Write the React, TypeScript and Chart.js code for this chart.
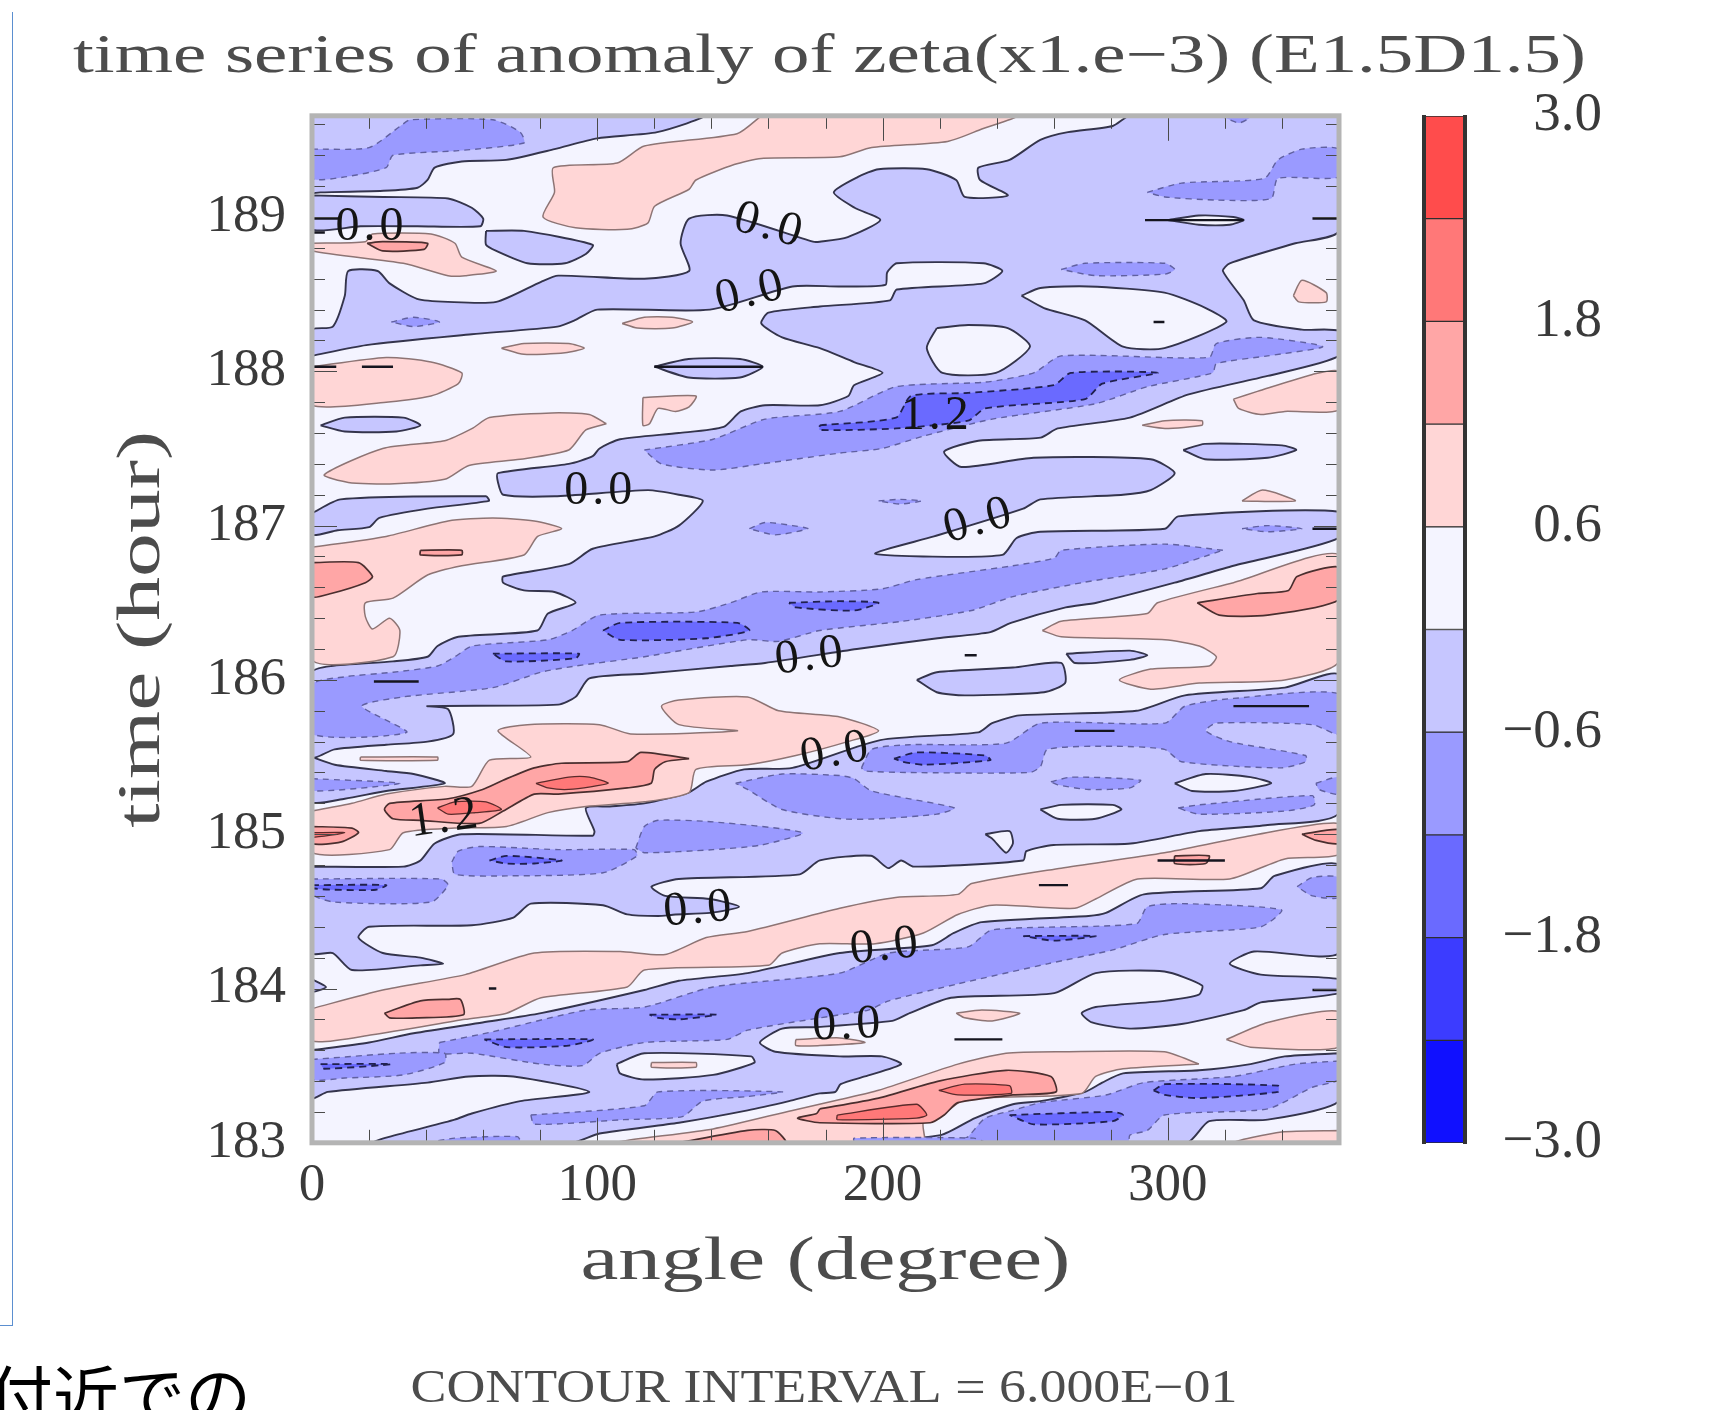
import React, { useEffect, useRef } from "react";
import { Chart, registerables } from "chart.js";

Chart.register(...registerables);

// ---- axis and level data ----
const angleMax = 360;
const hourMin = 183;
const hourMax = 189.656;
const colorLevelsPositive = [0.6, 0.6, 0.6, 0.6, 0.6];
const colorLevelsNegative = [-0.6, -0.6, -0.6, -0.6, -0.6];
const colorsPositive = ["#f4f4ff", "#ffd6d6", "#ffa6a6", "#ff7878", "#ff4c4c"];
const colorsNegative = ["#c6c6ff", "#9a9aff", "#6a6aff", "#3c3cff", "#1010ff"];

// ---- contour regions: flat lists of angle (degree), time (hour) ----
const plotWhole = [0, 183, 360, 183, 360, 189.656, 0, 189.656];

// band -0.6..0
const lbMain = [0,188.1,19,188.17,56,188.24,86,188.29,92,188.33,100,188.4,139.5,188.4,168.4,188.55,185,188.55,201,188.56,201.6,188.64,205,188.7,235.4,188.7,242,188.65,235.4,188.57,205,188.53,202.6,188.46,178,188.42,160,188.38,157.5,188.31,164.8,188.22,178,188.15,190,188.06,200,187.99,190,187.91,188,187.84,178,187.78,158.8,187.78,150.3,187.74,144.3,187.64,128.6,187.6,108,187.56,100.8,187.5,98.4,187.45,90,187.4,65.2,187.34,65.2,187.28,67,187.2,85,187.19,117.7,187.23,128.6,187.2,137,187.16,128.6,187,120.1,186.93,98.4,186.85,90,186.75,67,186.67,67,186.63,74.3,186.58,85,186.57,92.4,186.5,82.7,186.43,79,186.32,51.3,186.28,44,186.22,40.5,186.15,28.4,186.12,6.7,186.09,0,186.05,0,185.5,7.9,185.55,26,185.58,40.5,185.6,49.5,185.65,47.7,185.81,40.5,185.83,86.3,185.84,92.4,185.89,97.2,186.01,116.5,186.04,146.7,186.09,158.8,186.11,191,186.2,219.3,186.27,237.8,186.31,245,186.37,264.2,186.47,275,186.5,302.4,186.63,323,186.74,360,186.92,360,187.09,303.6,187.06,299,186.98,255.3,186.96,247,186.92,242,186.81,214.3,186.8,197.4,186.82,218,186.93,249.3,187.11,255.3,187.17,284.3,187.2,294,187.23,302.4,187.34,294,187.43,252.9,187.44,227.6,187.38,221.6,187.48,233.6,187.55,255.4,187.57,261.4,187.63,286.7,187.7,307.3,187.85,335,187.97,360,188.1,360,188.26,347,188.27,330.2,188.33,326.6,188.46,319.3,188.65,321.7,188.7,344.7,188.83,360,188.91,360,189.656,286.7,189.656,280.7,189.59,265,189.55,255.3,189.5,244.5,189.37,233.6,189.32,234.2,189.24,243.9,189.14,228.8,189.13,225.8,189.24,215.5,189.31,198.6,189.31,191.4,189.26,182.9,189.16,190.2,189.06,199.2,188.98,187.8,188.87,178,188.84,175.6,188.84,145.5,189.01,132.2,188.99,129.2,188.83,132.2,188.65,116.5,188.6,86.3,188.62,80.3,188.58,64.6,188.45,47.7,188.45,36.8,188.47,27.2,188.57,23,188.65,12.7,188.65,11.5,188.49,7.3,188.29,0,188.27,0,188.1];
const lbTop = [0,189.656,137,189.656,121,189.55,100,189.51,85,189.44,68,189.37,52.5,189.36,43,189.32,40.5,189.24,37,189.19,25,189.17,3,189.16,0,189.16,0,189.656];
const lbSecond = [0,189.14,25,189.13,47.7,189.12,56,189.06,60,188.99,59,188.94,37,188.94,17,188.94,0,188.92,0,189.14];
const lbThird = [61,188.91,74.3,188.91,98.4,188.82,96,188.76,88.7,188.7,75.5,188.7,64.6,188.78,61,188.82,61,188.91];
const lbLens1 = [120,188.03,132,188.08,150,188.08,158,188.03,150,187.96,132,187.96,120,188.03];
const lbLens2 = [3,187.65,11.5,187.7,32,187.7,38,187.65,29.6,187.61,11.5,187.61,3,187.65];
const lbLens3 = [305.4,187.49,313,187.53,340,187.52,345,187.49,335,187.44,313,187.43,305.4,187.49];
const lbLens4 = [212,186,219,186.05,245.7,186.08,262.6,186.11,264,185.98,256.6,185.92,228.8,185.9,219,185.92,212,186];
const lbLens5 = [264.4,186.17,286.7,186.19,292.8,186.16,286.7,186.13,267.4,186.11,264.4,186.17];
const lbSeven = [0,187.08,10,187.17,61,187.19,62,187.16,40.5,187.11,23.6,187.05,20,186.99,9,186.97,0,186.94,0,187.08];
const lbLower = [0,185.5,8,185.45,26,185.41,35.6,185.39,46.5,185.33,26,185.28,11.5,185.23,0,185.21,0,185.5];
const lbBandA = [0,184.79,32,184.79,38,184.83,43,184.94,52.5,185,98.4,184.99,99,185.02,96,185.17,104.4,185.18,116.5,185.2,132,185.27,138.2,185.34,151.5,185.42,168.4,185.43,199.2,185.61,233.6,185.66,238.4,185.72,248,185.77,289,185.8,306,185.9,341,185.95,360,186.03,360,185.14,335,185.06,311,185.02,287,184.94,260,184.93,250.4,184.89,249.3,184.83,210.9,184.79,206.5,184.83,202,184.78,196,184.86,178,184.83,171,184.74,128.6,184.71,119,184.66,123.8,184.6,139.5,184.58,149.7,184.53,139.5,184.49,127.4,184.48,121.3,184.47,110.5,184.48,102,184.54,76.7,184.55,70.6,184.46,56,184.41,20,184.4,16.3,184.33,24.8,184.23,38,184.2,46,184.16,38,184.15,14,184.12,7.3,184.23,0,184.23,0,184.79];
const lbBandB = [0,183.6,20,183.65,35.6,183.71,59.8,183.78,80.3,183.84,116.5,183.99,128.6,184.05,152.7,184.1,185,184.23,217.3,184.28,225,184.36,234.8,184.43,272.2,184.47,278.3,184.49,291.6,184.61,332.6,184.65,337.4,184.73,360,184.8,360,184.23,330.2,184.24,321.7,184.16,332.6,184.09,360,184.06,360,183.97,332.6,183.91,326.6,183.86,304.8,183.77,286.7,183.74,273.4,183.78,269.8,183.84,274.7,183.88,298.8,183.92,310.9,183.96,312,184.02,298.8,184.11,274.7,184.1,260.2,183.97,224,183.94,209.5,183.84,203.4,183.79,176.9,183.75,164.8,183.74,157,183.65,162.4,183.59,185,183.56,199.8,183.56,206.5,183.51,193.8,183.43,185.3,183.38,183.5,183.33,178,183.32,167.2,183.27,152.7,183.21,128.6,183.13,100.8,183.06,91,183,21.8,183,50,183.15,56,183.19,73,183.27,97.2,183.33,70.6,183.43,55,183.43,40.5,183.39,5.5,183.33,0,183.29,0,183.6];
const lbBottomRight = [360,183.58,341,183.56,329,183.51,311,183.47,284.3,183.45,277,183.39,271,183.33,255.3,183.27,245.7,183.25,232.4,183.16,220.4,183.05,190,183,306.6,183,314.5,183.14,335,183.15,360,183.27,360,183.58];
const lbTriangle = [0,184.06,4.9,184.01,0,183.98,0,184.06];

// band 0..0.6 islands inside the blue regions
const wIsland1 = [219,188.28,230,188.3,243.9,188.28,251.7,188.16,239.7,187.99,221,187.99,215.5,188.15,219,188.28];
const wIsland2 = [248.7,188.49,255.3,188.54,272.2,188.55,298.8,188.51,313.3,188.41,320.5,188.32,298.8,188.15,284.3,188.16,271,188.33,256.6,188.41,248.7,188.49];
const wIsland3 = [300,188.98,310.9,189.01,323,189,326.6,188.98,321.7,188.95,310.9,188.95,300,188.98];
const wIsland4 = [236,185,244.5,185.02,245.7,184.94,243.3,184.88,238.5,184.97,236,185];
const wIsland5 = [255.3,185.16,262.6,185.19,280.7,185.19,283.7,185.16,274.7,185.1,261.4,185.1,255.3,185.16];
const wIsland6 = [302.4,185.33,313.3,185.39,329,185.37,336.2,185.33,323,185.28,308.5,185.28,302.4,185.33];
const wIsland7 = [106.8,183.51,116.5,183.58,154,183.56,155.1,183.52,140.6,183.44,116.5,183.41,108,183.45,106.8,183.51];

// band 0.6..1.2
const pTopWedge = [157.5,189.656,149,189.54,116.5,189.46,107,189.35,84.6,189.32,85,189.16,81,189,92.4,188.93,110.5,188.92,117.7,188.96,120.1,189.07,132.2,189.18,134.6,189.24,148,189.34,157.5,189.38,185,189.39,196.2,189.45,222.8,189.49,234.8,189.57,247,189.656,157.5,189.656];
const pUpperLeft = [0,188.83,18.7,188.84,21.2,188.89,41.7,188.89,50.1,188.83,52.5,188.74,64.6,188.65,53.7,188.62,47.7,188.62,32,188.7,0,188.78,0,188.83];
const pLeft188 = [0,188.03,26,188.09,41.7,188.06,52.5,187.99,51.3,187.92,41.7,187.84,26,187.8,0,187.78,0,188.03];
const pSmallA = [108.7,188.31,116.5,188.35,126.2,188.35,133.4,188.32,126.2,188.28,114,188.28,108.7,188.31];
const pSmallB = [66.4,188.15,74.3,188.18,90,188.18,95.4,188.15,88.7,188.12,74.3,188.11,66.4,188.15];
const pFlag = [116,187.83,134.6,187.84,132.2,187.77,127.4,187.74,121.3,187.76,118.3,187.66,116,187.65,116,187.83];
const pLeft187 = [103.2,187.66,97.2,187.72,84,187.73,62.2,187.7,56.2,187.63,46.5,187.55,24.8,187.5,4.3,187.33,12.7,187.28,27.2,187.27,46.5,187.3,55,187.39,73,187.43,90,187.49,96,187.62,103.2,187.66];
const pLeft186 = [0,186.86,26,186.93,47.7,187.03,63.4,187.05,77.9,187.03,87.5,186.98,79.1,186.93,74.3,186.81,52.5,186.74,40.5,186.68,28.4,186.53,18.7,186.5,18.7,186.41,21.2,186.33,27.2,186.4,30.8,186.32,28.4,186.15,0,186.13,0,186.86];
const pBand185 = [0,185.15,14,185.2,26,185.26,46.5,185.31,56,185.31,62.2,185.48,76.7,185.5,65.2,185.67,75.5,185.71,100.8,185.71,111.7,185.65,149.1,185.67,128.6,185.71,122.5,185.83,128.6,185.87,152.7,185.89,163.6,185.8,185,185.76,198.6,185.67,187.8,185.6,169.6,185.51,152.7,185.45,134.6,185.42,132.2,185.27,116.5,185.21,96,185.18,82.7,185.14,68.2,185.05,50,185.04,32,185.01,27.2,184.9,0,184.88,0,185.15];
const pBand184 = [0,183.87,24.8,183.99,53.7,184.09,77.9,184.23,108,184.24,123.8,184.22,138.2,184.33,152.7,184.37,185,184.52,204.6,184.59,226.4,184.61,231.2,184.68,262.6,184.78,298.8,184.88,329,184.99,360,185.07,360,184.87,341,184.84,321.7,184.71,289.4,184.71,274.7,184.58,267.4,184.52,238.4,184.54,226.4,184.48,214.3,184.36,197.4,184.29,178,184.29,164.8,184.23,160,184.15,116.5,184.12,110.5,184.01,80.3,183.94,68.2,183.84,53.7,183.8,21.1,183.7,0,183.66,0,183.87];
const pRight186 = [256,186.32,262.6,186.38,292.8,186.43,296.4,186.5,323,186.63,360,186.81,360,186.12,341,186,311,185.98,294,185.94,283,186,294,186.07,314.5,186.09,317,186.15,311,186.22,299,186.26,262.6,186.28,256,186.32];
const pTriangle = [326,187.16,333.2,187.23,344.7,187.16,326,187.16];
const pRight187 = [323,187.82,331.4,187.87,350.7,187.98,360,188,360,187.75,341,187.74,332.6,187.72,324.8,187.76,323,187.82];
const pSliver187 = [291,187.65,299,187.68,312,187.68,312,187.65,299,187.63,291,187.65];
const pRight188 = [344,188.49,347,188.59,355.5,188.51,355.5,188.45,345.9,188.45,344,188.49];
const pSmallC = [225.8,183.84,234.8,183.86,248.1,183.84,238.4,183.79,228.8,183.81,225.8,183.84];
const pRight183 = [320.5,183.67,335,183.78,360,183.85,360,183.62,329,183.62,320.5,183.67];
const pCorner = [360,183.08,339.8,183.07,323,183,360,183,360,183.08];
const pSmallD = [169.6,183.67,185,183.68,193.8,183.65,178,183.63,169.6,183.63,169.6,183.67];
const pThinA = [119,183.52,134.6,183.52,134.6,183.49,119,183.49,119,183.52];
const pThinB = [17,185.5,44,185.5,44,185.48,17,185.48,17,185.5];
const pBottom = [310.9,183.51,298.8,183.59,262.6,183.59,243.3,183.58,226.4,183.51,198.6,183.34,185.1,183.28,168.4,183.21,140.6,183.09,106.8,183,214.3,183,214.3,183.13,221.6,183.19,228.8,183.28,269.8,183.32,274.7,183.43,284.3,183.48,310.9,183.51];

// band 1.2..1.8
const p2Upper = [19.3,188.83,24.8,188.84,40.5,188.83,39.3,188.79,24.8,188.78,19.3,188.83];
const p2Left186 = [0,186.76,16.3,186.76,21.2,186.67,18.7,186.63,6.7,186.56,0,186.54,0,186.76];
const p2Dash186 = [38,186.84,52.5,186.84,52.5,186.81,38,186.81,38,186.84];
const p2Band185 = [132.2,185.49,115.3,185.53,110.5,185.47,87.5,185.46,77.9,185.43,67,185.35,59.8,185.29,47.7,185.23,27.2,185.2,25.4,185.16,28.4,185.1,38,185.09,58.6,185.07,67,185.15,77.9,185.26,86.3,185.26,110.5,185.3,118.9,185.33,120.1,185.42,123.8,185.47,132.2,185.49];
const p2Left185 = [0,185.05,14,185.04,16.3,185.01,10.3,184.95,0,184.94,0,185.05];
const p2Low184 = [25.4,183.84,38,183.92,47.7,183.93,52,183.93,53.1,183.83,36.8,183.81,27.2,183.81,25.4,183.84];
const p2Dash184 = [302.4,184.86,314.5,184.86,313.3,184.81,302.4,184.81,302.4,184.86];
const p2Right185 = [347,185,360,185.03,360,184.94,352,184.96,347,185];
const p2Right186 = [310.3,186.5,331.4,186.56,342.3,186.58,345.3,186.67,360,186.73,360,186.52,335,186.42,318,186.42,310.3,186.5];
const p2Bottom = [178,183.22,198.6,183.29,219.7,183.4,243.3,183.47,259,183.43,260.8,183.33,245.7,183.31,226.4,183.26,221.6,183.18,216.7,183.13,178,183.13,170.2,183.16,176.9,183.19,178,183.22];
const p2BottomB = [128.6,183,152.7,183.08,162.4,183.08,166,183,128.6,183];

// band 1.8..2.4
const p3Band185 = [78.5,185.33,90,185.37,97.2,185.37,103.8,185.33,90,185.29,82.7,185.3,78.5,185.33];
const p3Label = [44,185.17,50,185.21,61,185.21,66.4,185.16,57.4,185.14,47.7,185.13,44,185.17];
const p3Left = [0,185.01,11.5,185.01,0,184.98,0,185.01];
const p3BottomA = [219.7,183.34,228.8,183.38,244.5,183.37,245.1,183.32,226.4,183.31,219.7,183.34];
const p3BottomB = [184.1,183.18,211.9,183.25,215.5,183.18,211.9,183.16,184.1,183.15,184.1,183.18];

// band -1.2..-0.6
const mTopLeft = [0,189.44,20,189.45,31,189.59,34.4,189.63,63.4,189.63,73,189.55,74.3,189.48,51.3,189.43,28.4,189.4,26,189.32,11.5,189.26,0,189.25,0,189.44];
const mTopRight = [292.8,189.16,304.8,189.22,333.8,189.25,338.6,189.37,347,189.44,360,189.44,360,189.26,338.6,189.25,336.2,189.12,317,189.11,299,189.13,292.8,189.16];
const mSmall188 = [262.6,188.66,271,188.7,299,188.7,302.4,188.66,299,188.63,274.7,188.62,262.6,188.66];
const mTopEdge = [319.3,189.65,329,189.65,325,189.61,319.3,189.65];
const mBand187 = [116.5,187.49,140.6,187.56,158.8,187.69,185,187.74,204.7,187.9,236,187.93,253,187.99,262.6,188.1,314.5,188.09,317,188.18,332.6,188.22,354.3,188.16,335,188.1,317,188.05,315.7,187.99,292.8,187.9,274.7,187.79,238.4,187.69,214.3,187.58,199.8,187.5,185,187.47,157.5,187.4,140.6,187.36,122.5,187.4,116.5,187.49];
const mBand186 = [319.3,186.84,299,186.88,262.6,186.84,260.2,186.79,245.7,186.74,211.9,186.65,199.8,186.59,178,186.57,157.5,186.57,146.7,186.5,134.6,186.44,100.8,186.42,91.2,186.32,82.7,186.26,56.2,186.22,50.1,186.15,44,186.09,28.4,186.05,11.5,186.02,0,185.97,0,185.65,33.2,185.66,17.5,185.83,32,185.89,63.4,185.95,80.3,186.05,92.4,186.09,116.5,186.15,152.7,186.26,163.6,186.25,178,186.32,207,186.38,231.2,186.45,245.7,186.54,269.8,186.63,299,186.72,319.3,186.84];
const mSliverA = [326,186.98,335,187,347,186.98,335,186.96,326,186.98];
const mSliverB = [198.6,187.16,205.9,187.17,213.7,187.16,205.9,187.14,198.6,187.16];
const mSliverC = [153.3,186.98,158.8,187.02,168.4,187,173.8,186.98,162.4,186.94,153.3,186.98];
const mSliverD = [27.8,188.32,35.6,188.35,44.7,188.32,35.6,188.29,27.8,188.32];
const mSliverE = [0,185.36,30.8,185.33,0,185.28,0,185.36];
const mRight185 = [192.6,185.43,196.2,185.55,209.5,185.58,243.3,185.59,255.4,185.72,299,185.72,306,185.83,323,185.88,360,185.91,360,185.65,350.7,185.71,316.9,185.72,313.3,185.67,321.7,185.6,348.3,185.51,348.3,185.47,339.8,185.43,304.8,185.47,298.8,185.55,280.7,185.57,257.8,185.55,255.4,185.44,251.7,185.4,208.3,185.4,193.8,185.41,192.6,185.43];
const mLens185 = [259,185.34,266.2,185.37,290.4,185.35,286.7,185.3,272.2,185.29,261.4,185.32,259,185.34];
const mRight185B = [303.6,185.17,310.9,185.19,350.7,185.25,351.3,185.19,341,185.15,310.9,185.13,303.6,185.17];
const mRight185C = [351.9,185.33,360,185.37,360,185.26,353,185.29,351.9,185.33];
const mCentre185 = [148.5,185.33,164.8,185.39,185,185.38,190,185.36,196.2,185.28,225.2,185.17,219,185.13,198.6,185.1,185.3,185.1,164.8,185.16,152.7,185.29,148.5,185.33];
const mCentre184 = [113.5,184.91,116.5,185.05,121.3,185.09,140.6,185.08,172,185.01,157.5,184.93,140.6,184.9,116.5,184.88,113.5,184.91];
const mPatch184 = [49,184.82,51.3,184.89,58.6,184.92,86.3,184.9,112.9,184.9,114,184.86,102,184.75,68.2,184.73,50.1,184.74,49,184.82];
const mLeft184 = [0,184.71,45.3,184.71,47.7,184.67,41.7,184.56,7.9,184.56,0,184.61,0,184.71];
const mBand184 = [44.7,183.65,63.4,183.72,96,183.86,116.5,183.88,140.6,184.01,185,184.1,202.2,184.23,230,184.27,238.4,184.38,289,184.42,292.8,184.53,304.8,184.55,339.8,184.51,332.6,184.4,298.8,184.35,280.7,184.25,257.8,184.16,226.4,184.03,202.2,183.92,195,183.86,185,183.83,152.7,183.73,145.5,183.67,116.5,183.65,100.8,183.58,94.8,183.5,80.3,183.51,56.2,183.58,44.7,183.58,44.7,183.65];
const mLeft183 = [0,183.54,29.6,183.58,46.5,183.58,46.5,183.52,32,183.44,11.5,183.42,0,183.41,0,183.54];
const mPatch183 = [76.7,183.18,116.5,183.24,121.3,183.33,164.8,183.33,152.7,183.3,137,183.27,129.8,183.17,109.3,183.15,77.9,183.12,76.7,183.18];
const mBottomRight = [360,183.53,344.7,183.51,323,183.43,291.6,183.39,278.3,183.31,255.3,183.26,245.7,183.21,236,183.16,230,183.04,226.4,183,286,183,286.7,183.05,292.8,183.08,298.8,183.18,335,183.22,350.7,183.36,360,183.41,360,183.53];
const mRight184 = [345.3,184.66,350.7,184.72,360,184.72,360,184.59,350.7,184.6,345.3,184.66];
const mEdgeA = [190,183,190,183.03,232,183.03,236,183,190,183];
const mEdgeB = [40.5,183,50,183.03,72,183.04,73,183,40.5,183];

// band -1.8..-1.2
const dBand187 = [178,187.65,204.7,187.7,210,187.84,230,187.86,260,187.91,266,187.99,296.4,187.99,277,187.92,271,187.82,236,187.76,230,187.68,204.7,187.63,178,187.62,178,187.65];
const dBand186A = [102,186.32,108,186.37,149.1,186.37,153.3,186.32,138.2,186.27,108,186.26,102,186.32];
const dBand186B = [63.4,186.17,93.6,186.17,92.4,186.14,68.2,186.12,63.4,186.17];
const dBand186C = [167.2,186.5,185,186.51,198.6,186.5,190.2,186.45,169.6,186.47,167.2,186.5];
const dRight185 = [204,185.49,211.9,185.53,236,185.51,237.8,185.48,214.3,185.45,207,185.47,204,185.49];
const dPatch184 = [62.2,184.83,68.2,184.86,87.5,184.83,77.9,184.81,68.2,184.81,62.2,184.83];
const dLeft184 = [0,184.67,26,184.67,22.4,184.64,7.9,184.64,0,184.65,0,184.67];
const dLow183A = [60.4,183.67,98.4,183.67,90,183.63,68.2,183.62,60.4,183.67];
const dLow183B = [118.3,183.83,141.8,183.83,128.6,183.8,121.3,183.81,118.3,183.83];
const dLow183C = [3,183.51,27.8,183.51,4.3,183.48,3,183.51];
const dLow184 = [249.3,184.34,274.7,184.34,260.2,184.31,249.3,184.34];
const dBottomA = [295,183.34,299,183.38,338.6,183.37,338.6,183.33,311,183.29,299,183.31,295,183.34];
const dBottomB = [244.5,183.18,280.7,183.2,284.3,183.18,280.7,183.14,253,183.12,244.5,183.18];

// short contour fragments
const contourDashes = [
  [17.5,188.03,28.4,188.03],[0,188.03,8.5,188.03],[62,184,64.6,184],[254.8,184.67,265,184.67],[296.4,184.83,320,184.83],
  [225.2,183.67,242,183.67],[323,185.83,349.5,185.83],[267.4,185.67,281.3,185.67],[295,188.32,298.8,188.32],
  [21.7,185.99,37.4,185.99],[120,188.03,158,188.03],[228.8,186.16,233,186.16],[350.7,188.99,360,188.99],
  [0,188.99,10,188.99],[350.7,186.98,360,186.98],[350.7,183.99,360,183.99],[0,188.9,4.5,188.9],[292,188.98,326.6,188.98],
];

// contour labels
const labelTexts = ["0.0","0.0","0.0","0.0","0.0","0.0","0.0","0.0","0.0","0.0","1.2","1.2"];
const labelAngles = [20.9,160.5,154,101,234,174.9,183.8,135.8,201.2,188,219,46.8];
const labelHours = [188.93,188.94,188.51,187.22,187.03,186.15,185.53,184.51,184.27,183.76,187.71,185.1];
const labelTilts = [0,15,-13,0,-15,-7,-10,-5,-6,-2,0,-8];

const xTickStep = 100;
const yTickStep = 1;
const xMinorStep = 20;
const yMinorStep = 0.2;

const titleText = "time series of anomaly of zeta(x1.e\u22123) (E1.5D1.5)";
const footerText = "CONTOUR INTERVAL = 6.000E\u221201";
const xAxisText = "angle (degree)";
const yAxisText = "time (hour)";
const cjkText = "付近での";

const toPoints = (flat: number[]) => {
  const pts = [];
  for (let i = 0; i < flat.length; i += 2) pts.push({ x: flat[i], y: flat[i + 1] });
  return pts;
};

const styleLB = { bg: "#c6c6ff", line: "#34344c", w: 1.9, dash: [] as number[] };
const styleW = { bg: "#f4f4ff", line: "#34344c", w: 1.9, dash: [] as number[] };
const styleP = { bg: "#ffd6d6", line: "#8d7474", w: 1.5, dash: [] as number[] };
const styleP2 = { bg: "#ffa6a6", line: "#4a2e2e", w: 1.7, dash: [] as number[] };
const styleP3 = { bg: "#ff7878", line: "#5a2a2a", w: 1.3, dash: [] as number[] };
const styleM = { bg: "#9a9aff", line: "#6060a0", w: 1.4, dash: [6, 5] };
const styleD = { bg: "#6a6aff", line: "#20204f", w: 1.8, dash: [7, 5] };

const layers: [number[], typeof styleLB][] = [
  ...[lbMain, lbTop, lbSecond, lbThird, lbLens1, lbLens2, lbLens3, lbLens4, lbLens5, lbSeven, lbLower, lbBandA, lbBandB, lbBottomRight, lbTriangle].map((p) => [p, styleLB] as [number[], typeof styleLB]),
  ...[wIsland1, wIsland2, wIsland3, wIsland4, wIsland5, wIsland6, wIsland7].map((p) => [p, styleW] as [number[], typeof styleLB]),
  ...[pTopWedge, pUpperLeft, pLeft188, pSmallA, pSmallB, pFlag, pLeft187, pLeft186, pBand185, pBand184, pRight186, pTriangle, pRight187, pSliver187, pRight188, pSmallC, pRight183, pCorner, pSmallD, pThinA, pThinB, pBottom].map((p) => [p, styleP] as [number[], typeof styleLB]),
  ...[p2Upper, p2Left186, p2Dash186, p2Band185, p2Left185, p2Low184, p2Dash184, p2Right185, p2Right186, p2Bottom, p2BottomB].map((p) => [p, styleP2] as [number[], typeof styleLB]),
  ...[p3Band185, p3Label, p3Left, p3BottomA, p3BottomB].map((p) => [p, styleP3] as [number[], typeof styleLB]),
  ...[mTopLeft, mTopRight, mSmall188, mTopEdge, mBand187, mBand186, mSliverA, mSliverB, mSliverC, mSliverD, mSliverE, mRight185, mLens185, mRight185B, mRight185C, mCentre185, mCentre184, mPatch184, mLeft184, mBand184, mLeft183, mPatch183, mBottomRight, mRight184, mEdgeA, mEdgeB].map((p) => [p, styleM] as [number[], typeof styleLB]),
  ...[dBand187, dBand186A, dBand186B, dBand186C, dRight185, dPatch184, dLeft184, dLow183A, dLow183B, dLow183C, dLow184, dBottomA, dBottomB].map((p) => [p, styleD] as [number[], typeof styleLB]),
];

const serifThin = "'Liberation Serif', serif";
const inkColor = "#3a3a3a";
const titleInk = "#4c4c4c";
const titleFontSize = 54;
const footerFontSize = 46;
const axisTitleFontSize = 62;
const titleWidth = 1513;
const footerWidth = 827;
const xAxisTitleWidth = 490;
const yAxisTitleLength = 397;

// widen a text drawing (keeping it real text): maps the drawn centre onto the wanted centre
function stretched(ctx: any, text: string, size: number, target: number, drawn: number, centre: number, vertical: boolean, draw: () => void) {
  ctx.save();
  ctx.font = `${size}px ${serifThin}`;
  const k = target / ctx.measureText(text).width;
  if (vertical) {
    ctx.translate(0, centre);
    ctx.scale(1, k);
    ctx.translate(0, -drawn);
  } else {
    ctx.translate(centre, 0);
    ctx.scale(k, 1);
    ctx.translate(-drawn, 0);
  }
  draw();
  ctx.restore();
}

const stretchPlugin = {
  id: "stretchTitles",
  beforeDraw(chart: any) {
    if (chart.$stretched) return;
    chart.$stretched = true;
    const ctx = chart.ctx;
    const a = chart.chartArea;
    chart.boxes.forEach((b: any) => {
      const mid = (b.left + b.right) / 2;
      if (b.options && b.options.text === titleText) {
        const d = b.draw.bind(b);
        b.draw = () => stretched(ctx, titleText, titleFontSize, titleWidth, mid, 829.5, false, d);
      }
      if (b.options && b.options.text === footerText) {
        const d = b.draw.bind(b);
        b.draw = () => stretched(ctx, footerText, footerFontSize, footerWidth, mid, 824, false, d);
      }
    });
    const xMid = (a.left + a.right) / 2;
    const yMid = (a.top + a.bottom) / 2;
    const xs = chart.scales.x;
    const dx = xs.drawTitle.bind(xs);
    xs.drawTitle = () => stretched(ctx, xAxisText, axisTitleFontSize, xAxisTitleWidth, xMid, xMid, false, dx);
    const ys = chart.scales.y;
    const dy = ys.drawTitle.bind(ys);
    ys.drawTitle = () => stretched(ctx, yAxisText, axisTitleFontSize, yAxisTitleLength, yMid, yMid, true, dy);
  },
};

const framePlugin = {
  id: "frameAndLabels",
  afterDatasetsDraw(chart: any) {
    const { ctx, chartArea: a, scales } = chart;
    const x = scales.x;
    const y = scales.y;
    ctx.save();
    // contour labels
    ctx.fillStyle = "#141414";
    ctx.font = `48px ${serifThin}`;
    (ctx as any).letterSpacing = "4px";
    ctx.textAlign = "center";
    ctx.textBaseline = "middle";
    labelTexts.forEach((t, i) => {
      ctx.save();
      ctx.translate(x.getPixelForValue(labelAngles[i]), y.getPixelForValue(labelHours[i]));
      ctx.rotate((labelTilts[i] * Math.PI) / 180);
      ctx.fillText(t, 0, 0);
      ctx.restore();
    });
    (ctx as any).letterSpacing = "0px";
    // inward ticks
    ctx.strokeStyle = "#4a4a4a";
    ctx.lineWidth = 1;
    ctx.beginPath();
    for (let v = 0; v <= angleMax; v += xMinorStep) {
      const px = Math.round(x.getPixelForValue(v)) + 0.5;
      const len = v % xTickStep === 0 ? 25 : 13;
      ctx.moveTo(px, a.top);
      ctx.lineTo(px, a.top + len);
      ctx.moveTo(px, a.bottom);
      ctx.lineTo(px, a.bottom - len);
    }
    for (let k = 0; hourMin + k * yMinorStep <= hourMax; k++) {
      const py = Math.round(y.getPixelForValue(hourMin + k * yMinorStep)) + 0.5;
      const len = k % 5 === 0 ? 25 : 13;
      ctx.moveTo(a.left, py);
      ctx.lineTo(a.left + len, py);
      ctx.moveTo(a.right, py);
      ctx.lineTo(a.right - len, py);
    }
    ctx.stroke();
    // frame
    ctx.strokeStyle = "#b4b4b4";
    ctx.lineWidth = 5;
    ctx.strokeRect(a.left, a.top, a.right - a.left, a.bottom - a.top);
    ctx.restore();
  },
};

const barSidesPlugin = {
  id: "barSides",
  afterDatasetsDraw(chart: any) {
    const { ctx, chartArea: a } = chart;
    ctx.save();
    ctx.strokeStyle = "#333333";
    ctx.lineWidth = 4;
    ctx.beginPath();
    ctx.moveTo(a.left + 2, a.top - 1);
    ctx.lineTo(a.left + 2, a.bottom + 1);
    ctx.moveTo(a.right - 2, a.top - 1);
    ctx.lineTo(a.right - 2, a.bottom + 1);
    ctx.stroke();
    ctx.restore();
  },
};

export default function App() {
  const mainRef = useRef<HTMLCanvasElement>(null);
  const barRef = useRef<HTMLCanvasElement>(null);

  useEffect(() => {
    const regionSets = [
      { data: toPoints(plotWhole), fill: "shape", backgroundColor: "#f4f4ff", borderWidth: 0, borderColor: "transparent", borderDash: [] as number[], tension: 0 },
      ...layers.map(([p, s]) => ({ data: toPoints(p), fill: "shape", backgroundColor: s.bg, borderColor: s.line, borderWidth: s.w, borderDash: s.dash, tension: 0.22 })),
      ...contourDashes.map((p) => ({ data: toPoints(p), fill: false, backgroundColor: "transparent", borderColor: "#15151f", borderWidth: 2.4, borderDash: [] as number[], tension: 0 })),
    ];
    const main = new Chart(mainRef.current as HTMLCanvasElement, {
      type: "scatter",
      data: {
        datasets: regionSets
          .map((d) => ({ ...d, showLine: true, pointRadius: 0, pointHoverRadius: 0 }))
          .reverse() as any,
      },
      options: {
        animation: false,
        responsive: false,
        devicePixelRatio: 1,
        layout: { padding: { left: 0, right: 1658 - 1339, top: 0, bottom: 0 } },
        plugins: {
          legend: { display: false },
          tooltip: { enabled: false },
          title: {
            display: true,
            text: titleText,
            color: titleInk,
            font: { family: serifThin, size: titleFontSize, weight: "normal" },
            padding: { top: 25, bottom: 26 },
          },
          subtitle: {
            display: true,
            position: "bottom",
            text: footerText,
            color: titleInk,
            font: { family: serifThin, size: footerFontSize, weight: "normal" },
            padding: { top: 0, bottom: 12 },
          },
        },
        scales: {
          x: {
            type: "linear",
            min: 0,
            max: angleMax,
            grid: { display: false, drawTicks: false },
            border: { display: false },
            afterFit: (s: any) => { s.height = 1363 - 1143; },
            ticks: {
              stepSize: xTickStep,
              includeBounds: false,
              maxRotation: 0,
              autoSkip: false,
              padding: 11,
              color: inkColor,
              font: { family: serifThin, size: 53 },
            },
            title: {
              display: true,
              text: xAxisText,
              color: titleInk,
              font: { family: serifThin, size: axisTitleFontSize, weight: "normal" },
              padding: { top: 0, bottom: 63 },
            },
          },
          y: {
            type: "linear",
            min: hourMin,
            max: hourMax,
            grid: { display: false, drawTicks: false },
            border: { display: false },
            afterFit: (s: any) => { s.width = 312; },
            ticks: {
              stepSize: yTickStep,
              includeBounds: false,
              autoSkip: false,
              padding: 26,
              color: inkColor,
              font: { family: serifThin, size: 53 },
            },
            title: {
              display: true,
              text: yAxisText,
              color: titleInk,
              font: { family: serifThin, size: axisTitleFontSize, weight: "normal" },
              padding: { top: 106, bottom: 0 },
            },
          },
        },
      } as any,
      plugins: [stretchPlugin, framePlugin],
    });

    const barSets = [
      ...colorLevelsPositive.map((v, i) => ({ v, c: colorsPositive[i] })),
      ...colorLevelsNegative.map((v, i) => ({ v, c: colorsNegative[i] })),
    ];
    const bar = new Chart(barRef.current as HTMLCanvasElement, {
      type: "bar",
      data: {
        labels: [""],
        datasets: barSets.map((s) => ({
          data: [s.v],
          backgroundColor: s.c,
          borderColor: "#2e2e2e",
          borderWidth: { left: 0, right: 0, top: 1, bottom: 1 },
          borderSkipped: false,
          barPercentage: 1,
          categoryPercentage: 1,
        })),
      },
      options: {
        animation: false,
        responsive: false,
        devicePixelRatio: 1,
        layout: { padding: { left: 12, right: 28, top: 36, bottom: 117 } },
        plugins: { legend: { display: false }, tooltip: { enabled: false } },
        scales: {
          x: { stacked: true, display: false },
          y: {
            stacked: true,
            position: "right",
            min: -3,
            max: 3,
            grid: { display: false, drawTicks: false },
            border: { display: false },
            afterFit: (s: any) => {
              s.width = 135;
              s.paddingTop = 0;
              s.paddingBottom = 0;
            },
            ticks: {
              stepSize: 1.2,
              autoSkip: false,
              padding: 10,
              crossAlign: "far",
              color: inkColor,
              font: { family: serifThin, size: 55 },
              callback: (v: any) => (Number(v) < 0 ? "\u2212" : "") + Math.abs(Number(v)).toFixed(1),
            },
          },
        },
      } as any,
      plugins: [barSidesPlugin],
    });

    return () => {
      main.destroy();
      bar.destroy();
    };
  }, []);

  return (
    <div style={{ position: "absolute", left: 0, top: 0, width: 1729, height: 1410, overflow: "hidden", background: "#fff" }}>
      <canvas ref={mainRef} width={1658} height={1430} style={{ position: "absolute", left: 0, top: 0, filter: "blur(0.7px)" }} />
      <canvas ref={barRef} width={220} height={1180} style={{ position: "absolute", left: 1410, top: 80, filter: "blur(0.7px)" }} />
      <div style={{ position: "absolute", left: -4, top: 12, width: 16, height: 1313, borderRight: "1.5px solid #5b8fd0", borderBottom: "1.5px solid #5b8fd0" }} />
      <div style={{ position: "absolute", left: -13, top: 1347, fontFamily: "'Noto Sans CJK JP'", fontSize: 66, lineHeight: "90px", color: "#000", whiteSpace: "nowrap" }}>{cjkText}</div>
    </div>
  );
}
